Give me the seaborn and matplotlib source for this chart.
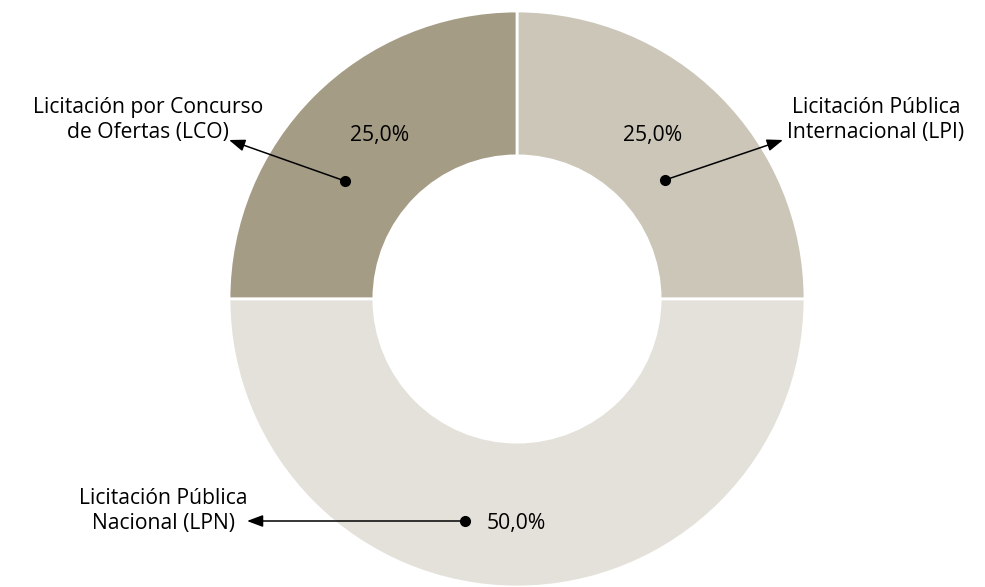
import matplotlib
matplotlib.use("Agg")
import matplotlib.pyplot as plt
import seaborn as sns
import numpy as np

categories = ["Licitación Pública\nInternacional (LPI)",
              "Licitación por Concurso\nde Ofertas (LCO)",
              "Licitación Pública\nNacional (LPN)"]
values = [25.0, 25.0, 50.0]
pct_labels = ["25,0%", "25,0%", "50,0%"]
colors = ["#cbc6b8", "#a59c86", "#e4e1da"]

sns.set_theme(style="white")
plt.rcParams['font.family'] = ['Open Sans', 'DejaVu Sans']

fig = plt.figure(figsize=(9.85, 5.87), dpi=100)
W, H = 985, 587
cx, cy, R = 517, 299, 288
ax = fig.add_axes([(cx - R) / W, (H - cy - R) / H, 2 * R / W, 2 * R / H])
wedges, _ = ax.pie(values, colors=colors, startangle=0, counterclock=True,
                   radius=1.0, wedgeprops=dict(width=0.503, edgecolor="white", linewidth=2))
ax.set_xlim(-1, 1)
ax.set_ylim(-1, 1)
ax.set_aspect("equal")
ax.axis("off")

def px(x, y):
    return ((x - cx) / R, (cy - y) / R)

# layout: (dot px, arrow head px, label text px, label ha, pct text px, pct ha)
layout = [
    ((665, 180), (783, 140), (876, 120), "center", (653, 136), "center"),
    ((345, 181), (229, 140), (148, 120), "center", (380, 136), "center"),
    ((465, 521), (247, 521), (163, 511), "center", (487, 523), "left"),
]
fs = 15.2
for cat, pct, (dot, head, lab, ha, ptxt, pha) in zip(categories, pct_labels, layout):
    d = px(*dot)
    h = px(*head)
    ax.plot([d[0]], [d[1]], "o", color="black", ms=7, zorder=5)
    ax.annotate("", xy=h, xytext=d,
                arrowprops=dict(arrowstyle="-|>,head_length=0.8,head_width=0.3",
                                color="black", lw=1.1, shrinkA=0, shrinkB=0),
                annotation_clip=False, zorder=5)
    t = px(*lab)
    ax.text(t[0], t[1], cat, ha=ha, va="center", fontsize=fs, color="black",
            linespacing=1.2, clip_on=False)
    p = px(*ptxt)
    ax.text(p[0], p[1], pct, ha=pha, va="center", fontsize=fs, color="black",
            clip_on=False)

fig.savefig("out.png", dpi=100, facecolor="white")
